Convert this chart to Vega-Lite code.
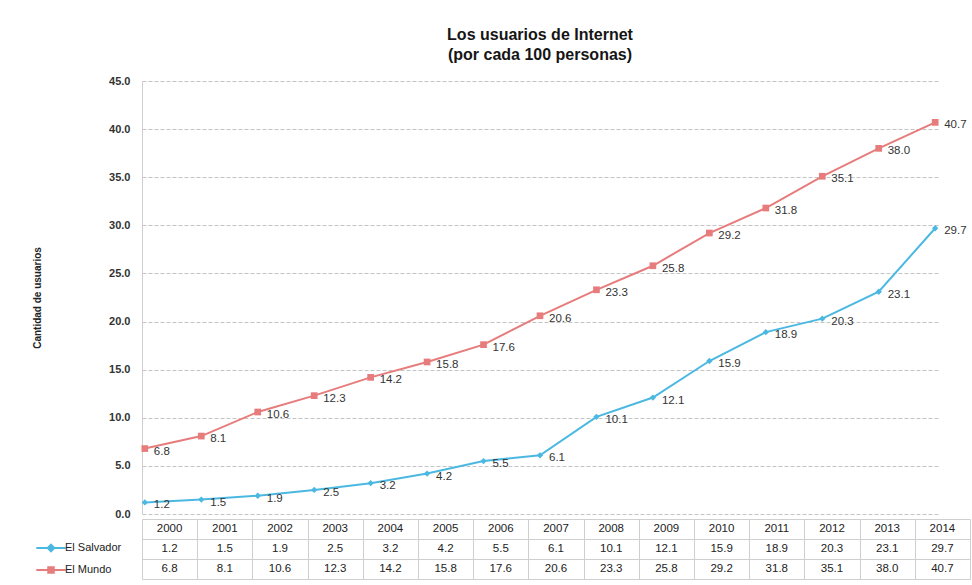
{
  "$schema": "https://vega.github.io/schema/vega-lite/v6.json",
  "padding": {"left": 32, "top": 27, "right": 4, "bottom": 2},
  "background": "white",
  "datasets": {
    "usuarios": [
      {"year": "2000", "serie": "El Salvador", "valor": 1.2},
      {"year": "2001", "serie": "El Salvador", "valor": 1.5},
      {"year": "2002", "serie": "El Salvador", "valor": 1.9},
      {"year": "2003", "serie": "El Salvador", "valor": 2.5},
      {"year": "2004", "serie": "El Salvador", "valor": 3.2},
      {"year": "2005", "serie": "El Salvador", "valor": 4.2},
      {"year": "2006", "serie": "El Salvador", "valor": 5.5},
      {"year": "2007", "serie": "El Salvador", "valor": 6.1},
      {"year": "2008", "serie": "El Salvador", "valor": 10.1},
      {"year": "2009", "serie": "El Salvador", "valor": 12.1},
      {"year": "2010", "serie": "El Salvador", "valor": 15.9},
      {"year": "2011", "serie": "El Salvador", "valor": 18.9},
      {"year": "2012", "serie": "El Salvador", "valor": 20.3},
      {"year": "2013", "serie": "El Salvador", "valor": 23.1},
      {"year": "2014", "serie": "El Salvador", "valor": 29.7},
      {"year": "2000", "serie": "El Mundo", "valor": 6.8},
      {"year": "2001", "serie": "El Mundo", "valor": 8.1},
      {"year": "2002", "serie": "El Mundo", "valor": 10.6},
      {"year": "2003", "serie": "El Mundo", "valor": 12.3},
      {"year": "2004", "serie": "El Mundo", "valor": 14.2},
      {"year": "2005", "serie": "El Mundo", "valor": 15.8},
      {"year": "2006", "serie": "El Mundo", "valor": 17.6},
      {"year": "2007", "serie": "El Mundo", "valor": 20.6},
      {"year": "2008", "serie": "El Mundo", "valor": 23.3},
      {"year": "2009", "serie": "El Mundo", "valor": 25.8},
      {"year": "2010", "serie": "El Mundo", "valor": 29.2},
      {"year": "2011", "serie": "El Mundo", "valor": 31.8},
      {"year": "2012", "serie": "El Mundo", "valor": 35.1},
      {"year": "2013", "serie": "El Mundo", "valor": 38.0},
      {"year": "2014", "serie": "El Mundo", "valor": 40.7}
    ]
  },
  "data": {"name": "usuarios"},
  "config": {
    "font": "Liberation Sans",
    "view": {"stroke": null},
    "concat": {"spacing": 0}
  },
  "spacing": 0,
  "vconcat": [
    {
      "width": 796,
      "height": 433,
      "title": {
        "text": ["Los usuarios de Internet", "(por cada 100 personas)"],
        "fontSize": 16,
        "lineHeight": 20,
        "fontWeight": "bold",
        "color": "#151515",
        "font": "Liberation Sans",
        "offset": 12,
        "anchor": "middle"
      },
      "encoding": {
        "x": {
          "field": "year",
          "type": "ordinal",
          "scale": {"type": "point", "padding": 0.05},
          "axis": null
        },
        "y": {
          "field": "valor",
          "type": "quantitative",
          "scale": {"domain": [0, 45]},
          "axis": {
            "title": "Cantidad de usuarios",
            "titleFontSize": 10,
            "titleFontWeight": "bold",
            "titleColor": "#222",
            "titlePadding": 66,
            "values": [0, 5, 10, 15, 20, 25, 30, 35, 40, 45],
            "format": ".1f",
            "labelFontSize": 11,
            "labelFontWeight": "bold",
            "labelColor": "#333",
            "labelPadding": 12,
            "ticks": false,
            "domainColor": "#cfcfcf",
            "gridColor": "#c4c4c4",
            "gridDash": [4, 2]
          }
        },
        "color": {
          "field": "serie",
          "type": "nominal",
          "scale": {"domain": ["El Salvador", "El Mundo"], "range": ["#4BB8E2", "#E77C7C"]},
          "legend": {
            "orient": "none",
            "legendX": -101,
            "legendY": 457,
            "title": null,
            "direction": "vertical",
            "labelFontSize": 11,
            "labelColor": "#222",
            "labelFont": "Liberation Sans",
            "symbolSize": 300,
            "rowPadding": 4,
            "labelOffset": 4,
            "encode": {
              "symbols": {
                "update": {
                  "shape": {"signal": "datum.value === 'El Mundo' ? 'M-1.7,0H1.7M-0.32,-0.32H0.32V0.32H-0.32Z' : 'M-1.7,0H1.7M0,-0.38L0.38,0L0,0.38L-0.38,0Z'"},
                  "strokeWidth": {"value": 2}
                }
              }
            }
          }
        }
      },
      "layer": [
        {
          "mark": {"type": "line", "strokeWidth": 2}
        },
        {
          "transform": [{"filter": "datum.serie === 'El Salvador'"}],
          "mark": {"type": "point", "filled": true, "opacity": 1, "shape": "diamond", "size": 40}
        },
        {
          "transform": [{"filter": "datum.serie === 'El Mundo'"}],
          "mark": {"type": "point", "filled": true, "opacity": 1, "shape": "square", "size": 45}
        },
        {
          "mark": {"type": "text", "align": "left", "baseline": "middle", "dx": 9, "dy": 3, "fontSize": 11.5, "color": "#333"},
          "encoding": {
            "text": {"field": "valor", "type": "quantitative", "format": ".1f"},
            "color": {"value": "#333"}
          }
        }
      ]
    },
    {
      "width": 828,
      "height": 60,
      "encoding": {
        "x": {
          "field": "year",
          "type": "ordinal",
          "scale": {"type": "band", "paddingInner": 0, "paddingOuter": 0},
          "axis": {"labels": false, "ticks": false, "domain": false, "title": null, "grid": true, "tickBand": "extent", "gridColor": "#cfcfcf"}
        },
        "y": {
          "type": "nominal",
          "scale": {"domain": ["Año", "El Salvador", "El Mundo"], "paddingInner": 0, "paddingOuter": 0},
          "axis": {"labels": false, "ticks": false, "domain": false, "title": null, "grid": true, "tickBand": "extent", "gridColor": "#cfcfcf"}
        }
      },
      "layer": [
        {
          "mark": {"type": "text", "fontSize": 11.5, "color": "#222", "baseline": "middle"},
          "encoding": {
            "y": {"field": "serie", "type": "nominal"},
            "text": {"field": "valor", "type": "quantitative", "format": ".1f"}
          }
        },
        {
          "transform": [{"filter": "datum.serie === 'El Mundo'"}],
          "mark": {"type": "text", "fontSize": 11.5, "color": "#222", "baseline": "middle"},
          "encoding": {
            "y": {"datum": "Año", "type": "nominal"},
            "text": {"field": "year", "type": "nominal"}
          }
        }
      ]
    }
  ]
}
